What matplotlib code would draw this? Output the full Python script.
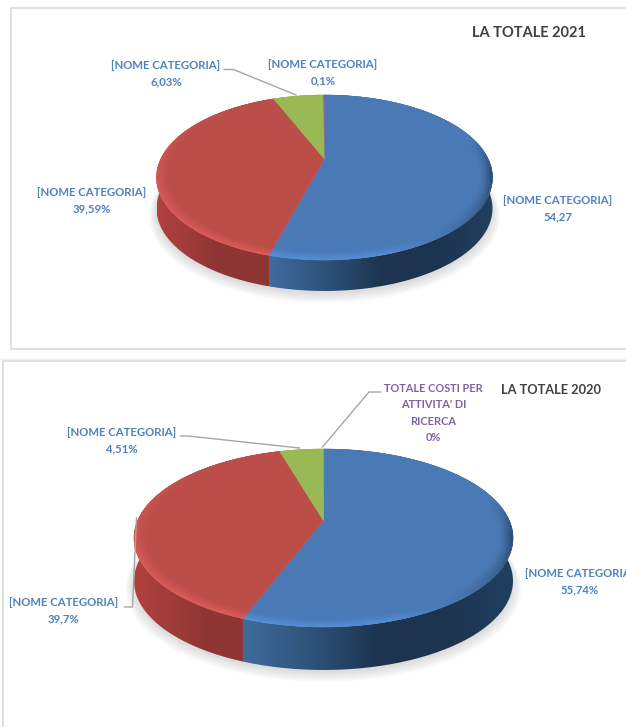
import numpy as np
import matplotlib
matplotlib.use('Agg')
import matplotlib.pyplot as plt
from matplotlib.collections import PolyCollection
from matplotlib.colors import LinearSegmentedColormap, to_rgb
from matplotlib.patches import PathPatch, Rectangle
from matplotlib.path import Path

# chart data, slices go clockwise from the top
values2021 = [54.27, 39.59, 6.03, 0.1]
values2020 = [55.74, 39.7, 4.51, 0.0]
labels2021 = ['54,27', '39,59%', '6,03%', '0,1%']
labels2020 = ['55,74%', '39,7%', '4,51%', '0%']
category = '[NOME CATEGORIA]'
purpleLabel = "TOTALE COSTI PER\nATTIVITA' DI\nRICERCA\n0%"
title2021 = 'LA TOTALE 2021'
title2020 = 'LA TOTALE 2020'

topColors = ['#4a7ab6', '#bc4e4a', '#99b955', '#8064a2']
wallColors = [['#3f6b9e', '#2e5379', '#1c3450', '#1c3450', '#20405f'],
              ['#b0423e', '#a03c39', '#8e3633', '#8e3633', '#8e3633'],
              ['#7a9444', '#7a9444', '#7a9444', '#7a9444', '#7a9444'],
              ['#66508a', '#66508a', '#66508a', '#66508a', '#66508a']]

# brightness of the bevel going round the rim (degrees clockwise from top)
bevelAngle = [0, 75, 100, 130, 165, 200, 245, 285, 315, 360]
bevelGain = [1.0, 1.0, 0.6, 0.85, 1.16, 1.18, 1.16, 1.06, 1.0, 1.0]

blue = '#4f81bd'
purple = '#8064a2'
dark = '#404040'
leaderGrey = '#a6a6a6'
frameGrey = '#d9d9d9'

plt.rcParams['font.family'] = ['Lato', 'DejaVu Sans']

fig = plt.figure(figsize=(6.26, 7.27), dpi=100)
ax = fig.add_axes([0, 0, 1, 1])
ax.set_axis_off()


class Pie3D:

    def __init__(self, cx, apex, top, bottom, halfWidth, depth):
        # circle seen in perspective, apex is where the centre ends up
        self.cx = cx
        self.apex = apex
        self.depth = depth
        up = apex - top
        down = bottom - apex
        self.k = (down - up) / (down + up)
        self.b = up * (1 + self.k)
        self.a = halfWidth * np.sqrt(1 - self.k ** 2)

    def project(self, theta, radius=1.0):
        # theta in radians clockwise from the top
        u = radius * np.sin(theta)
        v = radius * np.cos(theta)
        w = 1 + self.k * v
        return self.cx + self.a * u / w, self.apex - self.b * v / w

    def slices(self, values):
        edges = np.cumsum([0] + list(values)) / np.sum(values) * 2 * np.pi
        return list(zip(edges[:-1], edges[1:]))

    def drawShadow(self):
        theta = np.linspace(0, 2 * np.pi, 200)
        for i in range(8):
            x, y = self.project(theta, 1.0 + 0.006 * i)
            ax.fill(x, y + self.depth + 2 + i * 0.6, color='#808080', alpha=0.035, lw=0, zorder=1)

    def drawWall(self, start, end, colors):
        if end - start < 1e-3:
            return
        theta = np.linspace(start, end, 150)
        x, y = self.project(theta)
        px = np.concatenate([x, x[::-1]])
        py = np.concatenate([y, y[::-1] + self.depth])
        patch = PathPatch(Path(np.column_stack([px, py])), fc='none', ec='none',
                          transform=ax.transData)
        ax.add_patch(patch)
        cmap = LinearSegmentedColormap.from_list('wall', colors)
        ramp = np.linspace(0, 1, 256).reshape(1, -1)
        img = ax.imshow(ramp, cmap=cmap, extent=[px.min(), px.max(), py.max(), py.min()],
                        aspect='auto', zorder=2, interpolation='bilinear')
        img.set_clip_path(patch)

    def drawTop(self, start, end, color):
        if end - start < 1e-3:
            return
        theta = np.linspace(start, end, 150)
        x, y = self.project(theta)
        ax.fill(np.r_[self.cx, x], np.r_[self.apex, y], color=color, lw=0.3, zorder=3)

    def drawBevel(self, start, end, color):
        if end - start < 1e-3:
            return
        base = np.array(to_rgb(color))
        steps = max(int((end - start) * 60), 2)
        angles = np.linspace(start, end, steps + 1)
        radii = np.linspace(0.93, 1.0, 9)
        quads = []
        colors = []
        for i in range(steps):
            mid = np.degrees((angles[i] + angles[i + 1]) / 2)
            gain = np.interp(mid, bevelAngle, bevelGain)
            for j in range(len(radii) - 1):
                t = ((j + 1) / (len(radii) - 1)) ** 1.5
                x0, y0 = self.project(angles[i], radii[j])
                x1, y1 = self.project(angles[i + 1], radii[j])
                x2, y2 = self.project(angles[i + 1], radii[j + 1])
                x3, y3 = self.project(angles[i], radii[j + 1])
                quads.append([(x0, y0), (x1, y1), (x2, y2), (x3, y3)])
                colors.append(np.clip(base * (1 + (gain - 1) * t), 0, 1))
        ax.add_collection(PolyCollection(quads, facecolors=colors, edgecolors=colors,
                                         linewidths=0.3, zorder=4))

    def draw(self, values):
        parts = self.slices(values)
        self.drawShadow()
        for (start, end), colors in zip(parts, wallColors):
            self.drawWall(start, end, colors)
        for (start, end), color in zip(parts, topColors):
            self.drawTop(start, end, color)
            self.drawBevel(start, end, color)


def label(x, y, text, color=blue, size=8.2):
    ax.text(x, y, text, color=color, fontsize=size, fontweight='bold', ha='center',
            va='center', linespacing=1.62, zorder=6)


def leader(xs, ys):
    ax.plot(xs, ys, color=leaderGrey, lw=1.0, zorder=5, solid_joinstyle='round')


# frames
ax.add_patch(Rectangle((10.5, 7.5), 640, 341, fc='white', ec=frameGrey, lw=1.2, zorder=0))
ax.add_patch(Rectangle((3, 360.5), 640, 400, fc='white', ec=frameGrey, lw=1.2, zorder=0))
ax.plot([0, 626], [358.5, 358.5], color='#f0f0f0', lw=1, zorder=0)

# 2021
pie2021 = Pie3D(324.5, 159, 95, 260, 168, 31)
pie2021.draw(values2021)
ax.text(529, 33, title2021, color=dark, fontsize=10.5, fontweight='bold', ha='center', va='center')
label(166, 74, category + '\n' + labels2021[2])
label(323, 73, category + '\n' + labels2021[3])
label(91.5, 201, category + '\n' + labels2021[1])
label(558, 209, category + '\n' + labels2021[0])
leader([224, 233.5, 296], [69.5, 69.5, 95])

# 2020
pie2020 = Pie3D(323.5, 520.7, 449, 627, 189.5, 43)
pie2020.draw(values2020)
ax.text(551, 390, title2020, color=dark, fontsize=9.2, fontweight='bold', ha='center', va='center')
label(433.5, 413, purpleLabel, color=purple, size=7.9)
label(122, 441, category + '\n' + labels2020[2])
label(64, 611, category + '\n' + labels2020[1])
label(580, 581.5, category + '\n' + labels2020[0])
leader([381, 369, 322.5], [392, 392, 447])
leader([180.4, 188, 299.4], [436, 436, 448])
leader([124.5, 132.5, 136.5], [607, 607, 518])

ax.set_xlim(0, 626)
ax.set_ylim(727, 0)

fig.savefig('out.png', dpi=100, facecolor='white')
